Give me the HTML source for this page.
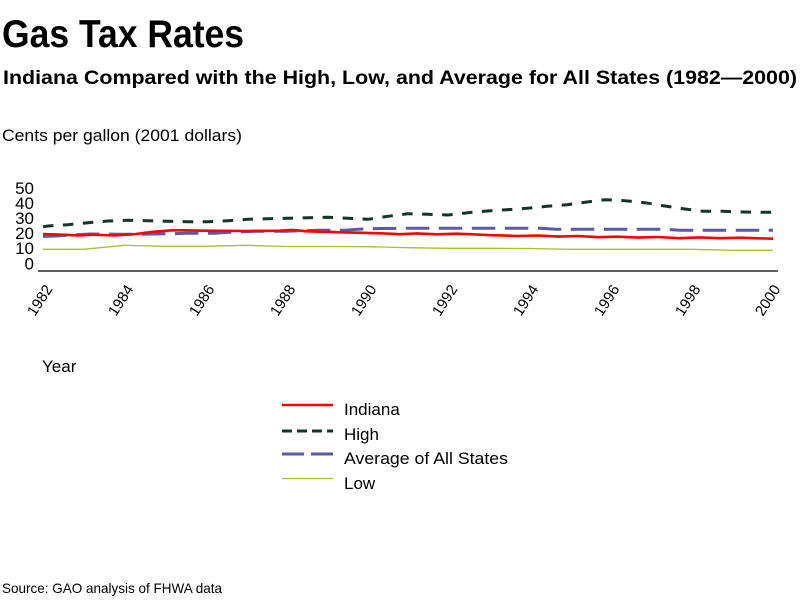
<!DOCTYPE html>
<html>
<head>
<meta charset="utf-8">
<style>
  html, body { margin: 0; padding: 0; background: #ffffff; }
  svg { display: block; }
  text { font-family: "Liberation Sans", Arial, sans-serif; fill: #000; }
</style>
</head>
<body>
<svg width="800" height="600" viewBox="0 0 800 600" xmlns="http://www.w3.org/2000/svg">
  <rect x="0" y="0" width="800" height="600" fill="#ffffff"/>

  <!-- Titles -->
  <text x="2" y="47" font-size="39" font-weight="bold" textLength="242" lengthAdjust="spacingAndGlyphs">Gas Tax Rates</text>
  <text x="3" y="84" font-size="19.5" font-weight="bold" textLength="794" lengthAdjust="spacingAndGlyphs">Indiana Compared with the High, Low, and Average for All States (1982—2000)</text>
  <text x="2" y="141" font-size="17" textLength="240" lengthAdjust="spacingAndGlyphs">Cents per gallon (2001 dollars)</text>

  <!-- Y tick labels -->
  <g font-size="17" text-anchor="end">
    <text x="34" y="194">50</text>
    <text x="34" y="209">40</text>
    <text x="34" y="224">30</text>
    <text x="34" y="239">20</text>
    <text x="34" y="254">10</text>
    <text x="34" y="269.5">0</text>
  </g>

  <!-- X axis line -->
  <line x1="38" y1="271" x2="778" y2="271" stroke="#000" stroke-width="1.3"/>

  <!-- X tick labels (rotated) -->
  <g font-size="15" text-anchor="end">
    <text transform="translate(53,289) rotate(-57)">1982</text>
    <text transform="translate(134,289) rotate(-57)">1984</text>
    <text transform="translate(215,289) rotate(-57)">1986</text>
    <text transform="translate(296,289) rotate(-57)">1988</text>
    <text transform="translate(377,289) rotate(-57)">1990</text>
    <text transform="translate(458,289) rotate(-57)">1992</text>
    <text transform="translate(539,289) rotate(-57)">1994</text>
    <text transform="translate(620,289) rotate(-57)">1996</text>
    <text transform="translate(701,289) rotate(-57)">1998</text>
    <text transform="translate(781,289) rotate(-57)">2000</text>
  </g>

  <text x="42" y="372" font-size="17">Year</text>

  <!-- Series: Low -->
  <polyline fill="none" stroke="#a5c03c" stroke-width="1.3"
    points="43,249.3 83.6,249.3 124,245.3 164.7,246.3 205,246.3 245.8,245.3 286,246.5 327,246.5 367.5,246.7 408,247.7 448.6,248.3 489,248.3 529.7,248.5 570,249.3 610.8,249.3 651,249.3 692,249.3 732.6,250.3 773,250.3"/>

  <!-- Series: Average of All States -->
  <polyline fill="none" stroke="#5a5aa6" stroke-width="3" stroke-dasharray="23.5 9.5"
    points="43,236.5 55,236 67,235.3 90,234 121,234.3 155,234 187,233.3 215,233.3 225,232.5 254,231.3 285,231.3 318,230.3 345,230.2 358,229.2 380,228.5 400,228.3 540,228.3 556,229.3 665,229.3 680,230.3 773,230.3"/>

  <!-- Series: Indiana -->
  <polyline fill="none" stroke="#ff0000" stroke-width="2.6"
    points="43,234 62,234.7 78,235.5 92,234.7 115,235.5 136,234 154,231.7 174,230.2 205,230.7 250,231 280,230.7 292,229.9 307,231.3 342,232.3 380,233.3 400,234.2 417,233.4 437,234.3 457,233.7 487,235 517,236 538,235.5 558,236.6 578,236 598,237.2 618,236.7 638,237.6 658,237 679,238.2 700,237.4 720,238.2 740,237.7 773,238.7"/>

  <!-- Series: High -->
  <polyline fill="none" stroke="#173526" stroke-width="3" stroke-dasharray="10.5 9.5"
    points="43,226.8 48,226 68,224.7 88,222.7 108,221 128,220.3 148,220.7 168,221.3 188,221.7 208,221.7 228,220.7 248,219.3 268,218.7 288,218.3 308,217.7 328,217.3 348,218.3 368,219.3 388,216.3 408,213.7 428,214.3 448,215 468,212.7 487,211 507,209.7 527,208.3 547,206.3 567,204.7 587,202 605,199.7 625,200.7 645,202.7 665,206 685,209 703,211.3 723,211.3 743,212 763,212.3 773,212.3"/>

  <!-- Legend -->
  <line x1="282" y1="405" x2="333" y2="405" stroke="#ff0000" stroke-width="2.6"/>
  <line x1="282" y1="431" x2="333" y2="431" stroke="#173526" stroke-width="3" stroke-dasharray="10 5"/>
  <line x1="282" y1="454" x2="333" y2="454" stroke="#5a5aa6" stroke-width="3" stroke-dasharray="22 7"/>
  <line x1="282" y1="478.5" x2="333" y2="478.5" stroke="#a5c03c" stroke-width="1.3"/>
  <g font-size="17">
    <text x="344" y="415">Indiana</text>
    <text x="344" y="440">High</text>
    <text x="344" y="464" textLength="164" lengthAdjust="spacingAndGlyphs">Average of All States</text>
    <text x="344" y="489">Low</text>
  </g>

  <!-- Source -->
  <text x="2" y="593" font-size="14" textLength="220" lengthAdjust="spacingAndGlyphs">Source: GAO analysis of FHWA data</text>
</svg>
</body>
</html>
